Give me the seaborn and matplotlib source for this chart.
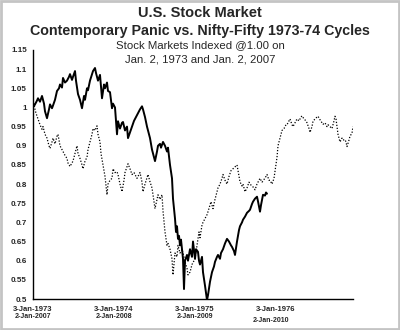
import numpy as np
import pandas as pd
import matplotlib
matplotlib.use("Agg")
import matplotlib.pyplot as plt
import matplotlib.transforms as mtransforms
import seaborn as sns

# ---- data (x in years since the start date, y = index value) ----
solid_x_px = [33,35,37,38,40,42,44,45,47,49,50,52,53,55,57,59,60,62,63,65,67,69,70,72,73,75,76,78,80,82,
              84,85,87,88,90,92,93,95,96,98,100,102,104,105,107,108,110,112,113,115,117,118,120,122,123,125,127,128,130,132,
              134,136,138,140,142,143,145,147,149,150,152,154,155,157,158,160,161,163,165,167,168,170,172,173,175,176,177,178,179,180,
              181,182,183,184,185,187,188,190,192,193,195,196,198,199,200,202,203,205,207,208,210,212,214,215,217,218,220,221,223,225,
              227,229,231,232,234,235,237,239,240,242,243,245,247,249,250,252,253,255,257,258,260,261,263,265,266,267]
solid_vals = [1.000,1.008,1.018,1.024,1.015,1.030,1.010,0.990,0.972,0.995,1.008,0.998,1.005,1.020,1.043,1.050,1.060,1.052,1.077,1.065,
              1.070,1.080,1.087,1.072,1.080,1.095,1.070,1.035,1.020,0.998,1.030,1.020,1.050,1.045,1.070,1.087,1.095,1.103,1.090,1.070,
              1.085,1.024,1.060,1.050,1.065,1.043,1.040,0.998,1.010,1.000,0.930,0.964,0.945,0.960,0.962,0.940,0.950,0.920,0.935,0.950,
              0.965,0.975,0.985,0.995,1.003,0.995,0.975,0.950,0.930,0.920,0.890,0.870,0.860,0.885,0.900,0.905,0.895,0.910,0.900,0.885,
              0.895,0.850,0.815,0.762,0.710,0.675,0.690,0.657,0.665,0.640,0.655,0.630,0.605,0.526,0.600,0.615,0.600,0.630,0.610,0.650,
              0.605,0.630,0.623,0.600,0.590,0.610,0.570,0.535,0.497,0.510,0.545,0.570,0.585,0.597,0.610,0.615,0.605,0.620,0.630,0.645,
              0.657,0.650,0.640,0.636,0.625,0.615,0.650,0.680,0.690,0.700,0.707,0.715,0.725,0.730,0.733,0.748,0.754,0.762,0.767,0.755,
              0.728,0.745,0.772,0.770,0.778,0.775]

dot_x_px = [33,34,35,36,38,40,42,43,45,47,49,50,52,53,55,57,58,60,62,63,65,67,68,70,72,73,75,77,78,80,
            82,83,85,87,88,90,92,93,95,97,98,100,101,103,105,107,108,110,112,113,115,117,118,120,122,124,125,127,128,130,
            132,134,137,138,140,142,143,145,148,150,152,153,155,157,158,160,162,163,165,167,168,170,172,173,175,177,178,180,182,184,
            185,187,188,190,192,194,195,197,199,200,202,203,205,207,208,210,211,213,215,217,218,220,222,223,225,227,229,231,233,235,
            237,238,240,242,243,245,247,249,250,252,254,255,257,259,260,262,264,266,267,269,270,272,274,275,277,278,280,282,284,286,
            287,289,290,292,293,295,297,299,301,302,304,306,307,309,310,312,313,315,317,318,320,322,323,325,327,328,330,332,334,335,
            336,337,338,340,342,343,345,346,347,349,350,352,353]
dot_vals = [1.000,1.010,0.995,0.985,0.970,0.955,0.943,0.950,0.930,0.920,0.900,0.893,0.910,0.920,0.905,0.925,0.930,0.900,0.890,0.885,
            0.875,0.867,0.855,0.846,0.855,0.860,0.880,0.900,0.880,0.867,0.850,0.840,0.860,0.870,0.890,0.910,0.930,0.945,0.940,0.952,
            0.930,0.910,0.880,0.850,0.820,0.772,0.800,0.810,0.815,0.840,0.830,0.832,0.825,0.800,0.780,0.810,0.830,0.845,0.853,0.840,
            0.825,0.830,0.815,0.820,0.830,0.805,0.780,0.800,0.825,0.806,0.790,0.772,0.736,0.760,0.772,0.760,0.772,0.730,0.675,0.640,
            0.645,0.630,0.605,0.563,0.620,0.610,0.640,0.620,0.630,0.610,0.597,0.580,0.563,0.570,0.590,0.600,0.605,0.640,0.675,0.660,
            0.693,0.700,0.710,0.720,0.728,0.746,0.754,0.736,0.760,0.780,0.790,0.800,0.815,0.825,0.810,0.800,0.820,0.835,0.840,0.845,
            0.850,0.835,0.806,0.795,0.800,0.780,0.790,0.805,0.800,0.795,0.790,0.785,0.800,0.810,0.815,0.805,0.812,0.820,0.825,0.810,
            0.810,0.800,0.815,0.833,0.870,0.900,0.920,0.940,0.945,0.955,0.955,0.965,0.970,0.955,0.950,0.960,0.970,0.965,0.975,0.978,
            0.970,0.965,0.960,0.945,0.935,0.950,0.964,0.970,0.975,0.977,0.968,0.960,0.956,0.960,0.950,0.955,0.950,0.945,0.965,0.977,
            0.970,0.950,0.930,0.910,0.920,0.915,0.916,0.910,0.898,0.915,0.925,0.933,0.950]

tick_years = [0, 1, 2, 3]
tick_labels_top = ["3-Jan-1973", "3-Jan-1974", "3-Jan-1975", "3-Jan-1976"]
tick_labels_bottom = ["2-Jan-2007", "2-Jan-2008", "2-Jan-2009", "2-Jan-2010"]
y_ticks = [1.15, 1.1, 1.05, 1.0, 0.95, 0.9, 0.85, 0.8, 0.75, 0.7, 0.65, 0.6, 0.55, 0.5]
y_tick_labels = ["1.15", "1.1", "1.05", "1", "0.95", "0.9", "0.85", "0.8", "0.75", "0.7", "0.65", "0.6", "0.55", "0.5"]

# pixel readings -> years since start (81 px per year, origin at 33 px)
solid_x = [(p - 33) / 81.0 for p in solid_x_px]
dot_x = [(p - 33) / 81.0 for p in dot_x_px]

df_solid = pd.DataFrame({"t": solid_x, "v": solid_vals})
df_dot = pd.DataFrame({"t": dot_x, "v": dot_vals})

sns.set_style("white")
plt.rcParams["font.family"] = ["Liberation Sans", "DejaVu Sans"]

fig = plt.figure(figsize=(4.0, 3.3), dpi=100)
fig.patch.set_facecolor("white")
ax = fig.add_axes([33 / 400, 1 - 299 / 330, 320 / 400, 249 / 330])

sns.lineplot(data=df_dot, x="t", y="v", ax=ax, color="black", linewidth=0.9,
             linestyle=(0, (1, 1.4)), estimator=None, sort=False)
sns.lineplot(data=df_solid, x="t", y="v", ax=ax, color="black", linewidth=1.4,
             estimator=None, sort=False)

ax.set_xlim(0, 320 / 81.0)
ax.set_ylim(0.5, 1.15)
ax.set_xlabel("")
ax.set_ylabel("")
ax.set_yticks(y_ticks)
ax.set_yticklabels(y_tick_labels, fontsize=5.8, fontweight="bold")
ax.set_xticks(tick_years)
ax.set_xticklabels(tick_labels_top, fontsize=5.5, fontweight="bold")
ax.tick_params(axis="both", direction="out", length=3, width=0.8, color="black", pad=1.5)
ax.tick_params(axis="x", pad=2)
for s in ["top", "right"]:
    ax.spines[s].set_visible(False)
for s in ["left", "bottom"]:
    ax.spines[s].set_color("black")
    ax.spines[s].set_linewidth(1.0)
ax.grid(False)

trans = mtransforms.blended_transform_factory(ax.transData, fig.transFigure)
offsets = [0, 0, 0, -0.06]
ypos = [1 - 317 / 330, 1 - 317 / 330, 1 - 317 / 330, 1 - 321 / 330]
for tx, lab, dx, yy in zip(tick_years, tick_labels_bottom, offsets, ypos):
    ax.text(tx + dx, yy, lab, transform=trans, ha="center", va="center",
            fontsize=5.0, fontweight="bold")

fig.text(0.5, 1 - 13 / 330, "U.S. Stock Market", ha="center", va="center",
         fontsize=10.5, fontweight="bold")
fig.text(0.5, 1 - 31 / 330, "Contemporary Panic vs. Nifty-Fifty 1973-74 Cycles",
         ha="center", va="center", fontsize=10.3, fontweight="bold")
fig.text(0.5, 1 - 45 / 330, "Stock Markets Indexed @1.00 on", ha="center", va="center",
         fontsize=8.2)
fig.text(0.5, 1 - 59 / 330, "Jan. 2, 1973 and Jan. 2, 2007", ha="center", va="center",
         fontsize=8.2)

border = plt.Rectangle((0.002, 0.003), 0.995, 0.994, transform=fig.transFigure,
                       fill=False, edgecolor="#c4c4c4", linewidth=2.0)
fig.patches.append(border)

fig.savefig("out.png", dpi=100, facecolor="white")
